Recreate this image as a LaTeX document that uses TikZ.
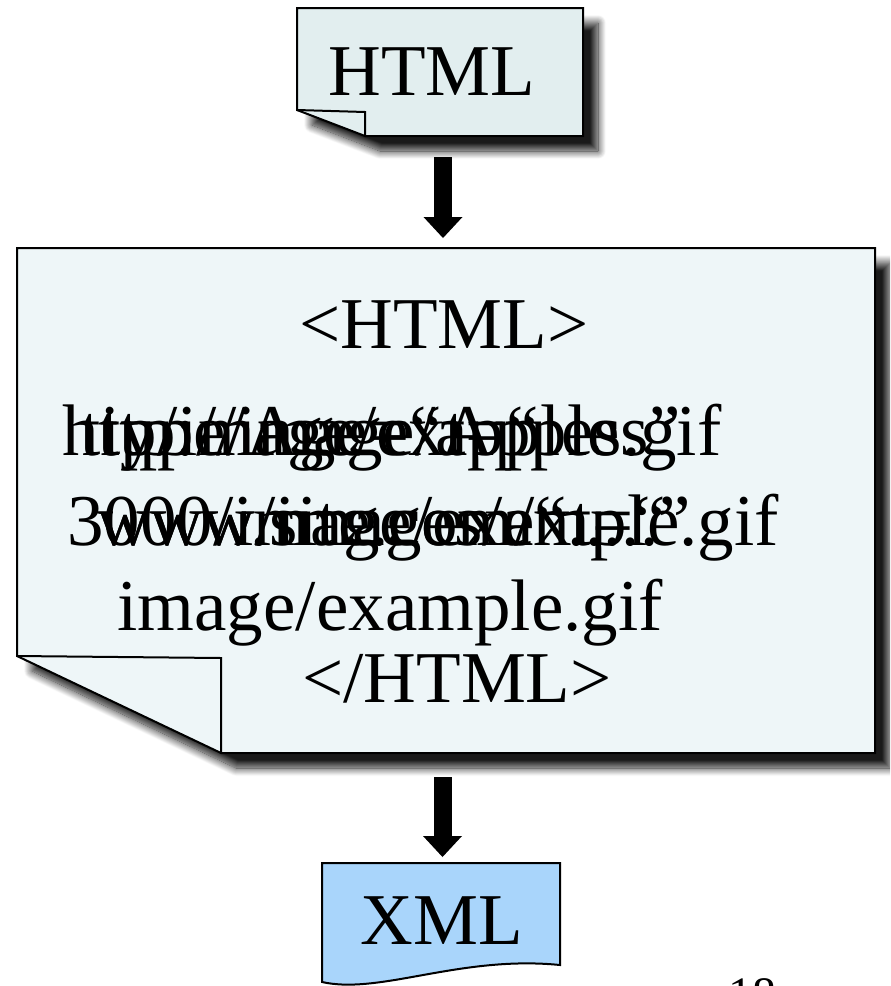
\documentclass[tikz,border=0pt]{standalone}
\usepackage{fontspec}
\setmainfont{Liberation Serif}
\usetikzlibrary{shadows.blur,arrows.meta,calc}
\definecolor{docfill}{HTML}{E2EEEF}
\definecolor{pagefill}{HTML}{EEF6F8}
\definecolor{xmlfill}{HTML}{A9D5FB}
\tikzset{
  docshadow/.style={blur shadow={shadow xshift=7.5pt, shadow yshift=-7.5pt,
      shadow blur radius=4pt, shadow opacity=90, shadow blur steps=16}},
  outline/.style={draw=black, line width=1pt, line join=miter},
  frame/.style={draw=none, inner sep=0pt, outer sep=0pt},
  bigtext/.style={font=\fontsize{36.5}{40}\selectfont, inner sep=0pt, anchor=base west},
  blockarrow/.style={line width=9pt,
      -{Triangle[width=19.5pt,length=10.5pt,line width=0pt,fill=black]}},
}
\begin{document}
\begin{tikzpicture}[x=0.5pt,y=-0.5pt]
\useasboundingbox (0,0) rectangle (890,986);
\clip (0,0) rectangle (890,986);

% invisible frames that carry the positions of the three documents
\node[frame, minimum width=143pt, minimum height=64pt] (html) at (440,72) {};
\node[frame, minimum width=429pt, minimum height=252.5pt] (page) at (446,500.5) {};
\node[frame, minimum width=119pt, minimum height=59.5pt] (xml) at (441,922.5) {};

% small HTML document with a folded lower-left corner
\path[outline, fill=docfill, docshadow]
  (html.north west) -- (html.north east) -- (html.south east)
  -- ($(html.south west)+(68,0)$) -- ($(html.south west)+(0,-26)$) -- cycle;
\draw[outline] ($(html.south west)+(0,-26)$) -- ($(html.south west)+(68,-24)$)
  -- ($(html.south west)+(68,0)$);

% large page with the HTML source
\path[outline, fill=pagefill, docshadow]
  (page.north west) -- (page.north east) -- (page.south east)
  -- ($(page.south west)+(204,0)$) -- ($(page.south west)+(0,-97)$) -- cycle;
\draw[outline] ($(page.south west)+(0,-97)$) -- ($(page.south west)+(204,-95)$)
  -- ($(page.south west)+(204,0)$);

% XML document with a wavy lower edge
\path[outline, fill=xmlfill]
  (xml.north west) -- (xml.north east) -- ($(xml.south east)+(0,-17)$)
  .. controls ($(xml.south west)+(138,-27)$) and ($(xml.south west)+(58,13)$) .. (xml.south west)
  -- cycle;

% block arrows between the documents
\draw[blockarrow] ($(html.south)+(3,21)$) -- ($(page.north)+(-3,-10)$);
\draw[blockarrow] ($(page.south)+(-3.5,24)$) -- ($(xml.north)+(1.5,-6)$);

% labels
\node[bigtext, anchor=base] (t-title) at (432,95) {HTML};
\node[bigtext, anchor=base] (t-open) at (444,348) {<HTML>};

\node[bigtext] (l1a) at (62,455) {http://image/apples.gif};
\node[bigtext] (l1b) at (100,455) {type/Age=“Apples”};
\node[bigtext] (l1c) at (80,455) {tip/image/ext=“};

\node[bigtext] (l2a) at (67,545) {3000/image/example.gif};
\node[bigtext] (l2b) at (97,545) {www.site.com/“.....”};
\node[bigtext] (l2c) at (97,545) {www/images/ext=“};

\node[bigtext] (l3a) at (117,630) {image/example.gif};

\node[bigtext, anchor=base] (t-close) at (457,702) {</HTML>};
\node[bigtext, anchor=base] (t-xml) at (442,944) {XML};

\node[anchor=base west, inner sep=0pt, font=\fontsize{24}{24}\selectfont] (pnum) at (728,1010) {18};
\end{tikzpicture}
\end{document}
